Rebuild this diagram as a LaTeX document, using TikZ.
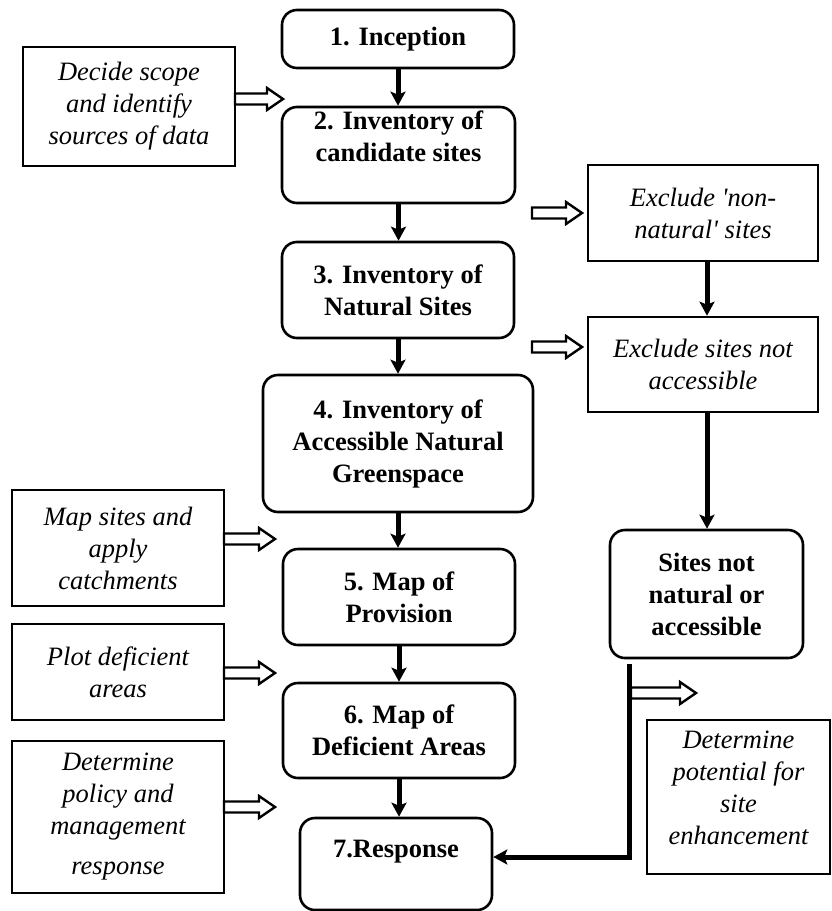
\documentclass[tikz,border=0pt]{standalone}
\usepackage{fontspec}
\setmainfont{Liberation Serif}[Ligatures=TeXOff]
\usetikzlibrary{arrows.meta,calc}
\newcommand\hollowarrow[2]{%
  \draw[hollow] (#1) ++(0,-5.5) -- ++({#2-16},0) -- ++(0,-5.5) -- ++(16,11)
    -- ++(-16,11) -- ++(0,-5.5) -- ++({16-#2},0) -- cycle;}
\begin{document}
\begin{tikzpicture}[x=1pt,y=-1pt,
  every node/.style={align=center, inner sep=0pt},
  rbox/.style={draw, line width=2.6pt, rounded corners=15pt,
    font=\fontsize{26.5}{32}\selectfont\bfseries},
  sbox/.style={draw, line width=2.6pt,
    font=\fontsize{26.5}{32}\selectfont\itshape},
  flow/.style={line width=5pt, line join=miter,
    -{Stealth[length=14pt,width=15pt,inset=3pt]}},
  hollow/.style={draw, line width=2.4pt, fill=white, line join=miter}]
\useasboundingbox (0,0) rectangle (832,911);

% main column
\node[rbox, minimum width=232pt, minimum height=58pt] (n1) at (398,39) {1. Inception};
\node[rbox, minimum width=233pt, minimum height=96pt, text depth=38pt] (n2) at (398.5,155) {2. Inventory of\\candidate sites};
\node[rbox, minimum width=232pt, minimum height=96pt] (n3) at (398,290) {3. Inventory of\\Natural Sites};
\node[rbox, minimum width=270pt, minimum height=137pt] (n4) at (398,443.5) {4. Inventory of\\Accessible Natural\\Greenspace};
\node[rbox, minimum width=232pt, minimum height=96pt] (n5) at (399,597) {5. Map of\\Provision};
\node[rbox, minimum width=232pt, minimum height=95pt] (n6) at (399,730.5) {6. Map of\\Deficient Areas};
\node[rbox, minimum width=192pt, minimum height=92pt, text depth=30pt] (n7) at (396,864) {7.Response};

% right column
\node[sbox, minimum width=230pt, minimum height=96pt] (e1) at (703,213) {Exclude 'non-\\natural' sites};
\node[sbox, minimum width=230pt, minimum height=95pt] (e2) at (703,364.5) {Exclude sites not\\accessible};
\node[rbox, minimum width=193pt, minimum height=128pt] (s1) at (706.5,594) {Sites not\\natural or\\accessible};
\node[sbox, minimum width=183pt, minimum height=154pt, text depth=18pt] (dt) at (738.5,797) {Determine\\potential for\\site\\enhancement};

% left column
\node[sbox, minimum width=212pt, minimum height=119pt] (d1) at (129,106.5) {Decide scope\\and identify\\sources of data};
\node[sbox, minimum width=212pt, minimum height=116pt] (m1) at (118,548) {Map sites and\\apply\\catchments};
\node[sbox, minimum width=212pt, minimum height=96pt] (p1) at (118,672) {Plot deficient\\areas};
\node[sbox, minimum width=212pt, minimum height=152pt] (dp) at (118,817) {Determine\\policy and\\management\\[8pt]response};

% flow arrows
\draw[flow] (n1.south) -- (n1.south |- n2.north);
\draw[flow] (n2.south) -- (n2.south |- n3.north);
\draw[flow] (n3.south) -- (n3.south |- n4.north);
\draw[flow] (n4.south) -- (n4.south |- n5.north);
\draw[flow] (n5.south) -- (n5.south |- n6.north);
\draw[flow] (n6.south) -- (n6.south |- n7.north);
\draw[flow] (e1.south -| 707,0) -- (e2.north -| 707,0);
\draw[flow] (e2.south -| 707,0) -- (s1.north -| 707,0);
\coordinate (sA) at (629.5,664);
\coordinate (sB) at (629.5,857);
\draw[flow] (sA) -- (sB) -- (sB -| n7.east);

% hollow arrows
\coordinate (h1) at (235,99);
\coordinate (h2) at (532,213);
\coordinate (h3) at (532,347);
\coordinate (h4) at (224,539);
\coordinate (h5) at (224,673);
\coordinate (h6) at (224,807);
\coordinate (h7) at (631,693);
\hollowarrow{h1}{48}
\hollowarrow{h2}{50}
\hollowarrow{h3}{50}
\hollowarrow{h4}{51}
\hollowarrow{h5}{51}
\hollowarrow{h6}{51}
\hollowarrow{h7}{65}
\end{tikzpicture}
\end{document}
